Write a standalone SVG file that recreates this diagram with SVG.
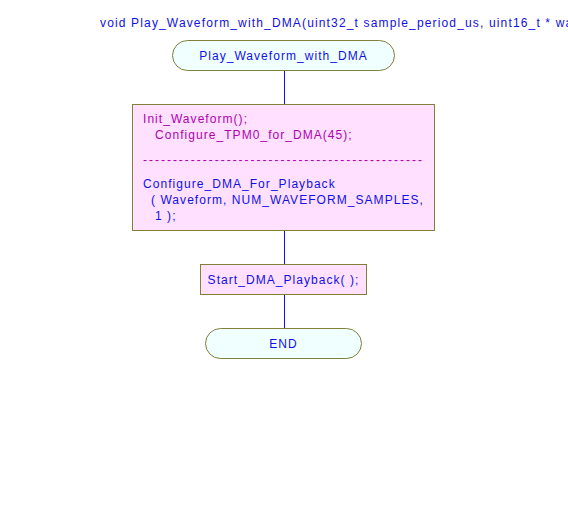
<svg xmlns="http://www.w3.org/2000/svg" width="568" height="528" viewBox="0 0 568 528">
<style>
text{font-family:"Liberation Sans",Arial,sans-serif;font-size:12px;letter-spacing:1.05px}
.b{fill:#1010e8}
.m{fill:#b000b0}
.hdr{letter-spacing:1.15px}
.dash{letter-spacing:1.98px}
.term{fill:#f0ffff;stroke:#808038;stroke-width:1}
.proc{fill:#ffe0ff;stroke:#808038;stroke-width:1}
.c{stroke:#1010e8;stroke-width:1;fill:none}
</style>
<rect width="568" height="528" fill="#ffffff"/>
<text class="b hdr" x="100" y="27">void Play_Waveform_with_DMA(uint32_t sample_period_us, uint16_t * wa</text>
<g id="connectors">
<line class="c" x1="284.5" y1="70" x2="284.5" y2="104"/>
<line class="c" x1="284.5" y1="230" x2="284.5" y2="264"/>
<line class="c" x1="284.5" y1="294" x2="284.5" y2="328"/>
</g>
<g id="start">
<rect class="term" x="172.5" y="40.5" width="222" height="30" rx="15" ry="15"/>
<text class="b" x="283.5" y="60" text-anchor="middle">Play_Waveform_with_DMA</text>
</g>
<g id="init">
<rect class="proc" x="132.5" y="104.5" width="302" height="126"/>
<text class="m" x="143" y="123">Init_Waveform();</text>
<text class="m" x="155" y="139">Configure_TPM0_for_DMA(45);</text>
<text class="m dash" x="143" y="164">-----------------------------------------------</text>
<text class="b" x="143" y="188">Configure_DMA_For_Playback</text>
<text class="b" x="151" y="204">( Waveform, NUM_WAVEFORM_SAMPLES,</text>
<text class="b" x="155" y="220">1 );</text>
</g>
<g id="startdma">
<rect class="proc" x="200.5" y="264.5" width="166" height="30"/>
<text class="b" x="283.5" y="284" text-anchor="middle">Start_DMA_Playback( );</text>
</g>
<g id="end">
<rect class="term" x="205.5" y="328.5" width="156" height="30" rx="15" ry="15"/>
<text class="b" x="283.5" y="348" text-anchor="middle">END</text>
</g>
</svg>
